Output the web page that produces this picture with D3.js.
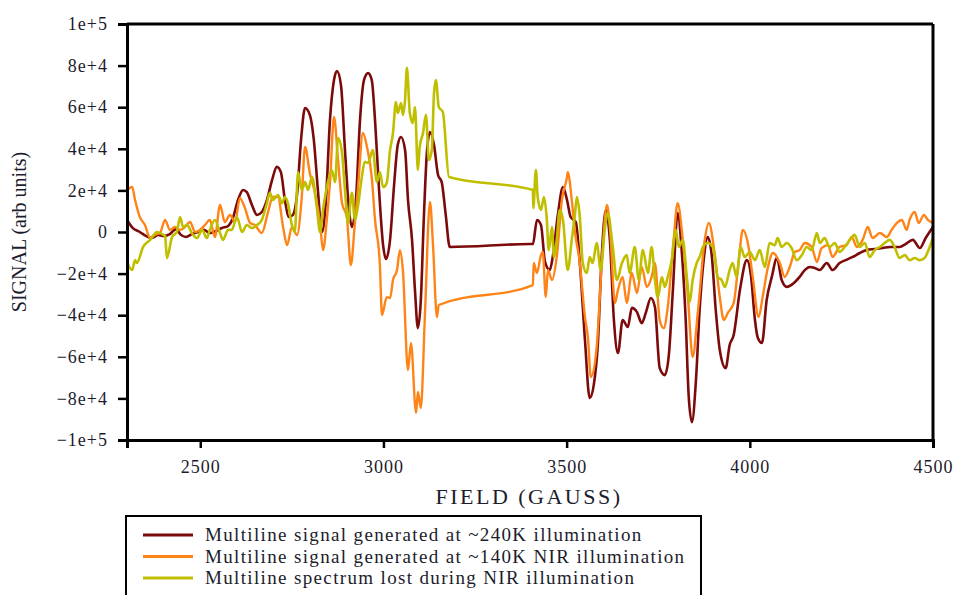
<!DOCTYPE html>
<html>
<head>
<meta charset="utf-8">
<script src="https://cdn.jsdelivr.net/npm/d3@7"></script>
<style>
  html, body { margin: 0; padding: 0; background: #fff; }
  svg { display: block; }
</style>
</head>
<body>
<svg id="chart" width="957" height="595"></svg>
<script>
// ---------------- DATA ----------------
const seriesNames = [
  "Multiline signal generated at ~240K illumination",
  "Multiline signal generated at ~140K NIR illumination",
  "Multiline spectrum lost during NIR illumination"
];
const seriesColors = ["#7d0a0a", "#ff8418", "#bfbf00"];

const xTicks = [2500, 3000, 3500, 4000, 4500];
const yTicks = [-100000, -80000, -60000, -40000, -20000, 0, 20000, 40000, 60000, 80000, 100000];

const field240 = [2300,2316,2335,2352,2368,2385,2401,2417,2434,2445,
  2461,2477,2494,2510,2526,2543,2559,2576,2589,2603,
  2617,2627,2641,2655,2668,2682,2696,2709,2720,2731,
  2742,2753,2764,2775,2786,2799,2810,2821,2832,2843,
  2854,2865,2873,2884,2895,2906,2914,2925,2936,2947,
  2958,2968,2977,2988,2999,3007,3018,3029,3039,3048,
  3059,3067,3078,3086,3094,3102,3110,3119,3127,3138,
  3149,3159,3170,3181,3400,3408,3419,3430,3441,3454,
  3462,3476,3490,3501,3511,3525,3536,3550,3563,3574,
  3585,3596,3607,3618,3629,3640,3653,3667,3678,3692,
  3705,3716,3730,3741,3754,3768,3779,3790,3803,3814,
  3825,3833,3842,3853,3863,3874,3885,3896,3907,3918,
  3934,3945,3956,3973,3992,4003,4014,4022,4033,4046,
  4060,4074,4087,4101,4117,4136,4150,4164,4177,4191,
  4210,4226,4245,4262,4281,4300,4319,4341,4363,4382,
  4409,4425,4445,4464,4480,4500];
const signal240 = [5800,1900,0,-1900,-2900,-1400,-1900,-1000,1400,-1000,
  -2400,-1000,0,1000,-500,500,1900,2900,6700,15400,
  20200,19200,13000,8200,9600,15400,25000,31300,28800,15400,
  7200,8200,17800,44200,59600,56300,44200,20200,0,15400,
  53800,73100,77400,70700,39400,10600,2400,15400,53800,73100,
  76400,73100,53800,20200,-6300,-13000,-3800,22600,41800,45700,
  39400,15400,-3800,-27900,-46200,-32700,5800,39400,48100,41800,
  27400,24000,8200,-7200,-5800,-5800,5800,3400,-14400,-18300,
  -12000,8200,21600,15400,7200,4800,-14900,-51900,-79800,-73600,
  -54300,-11100,10600,-3800,-42300,-58200,-42300,-45700,-36500,-38500,
  -43800,-38900,-31700,-36100,-65400,-68800,-59100,-27900,9100,-8700,
  -42300,-78400,-91400,-71200,-37500,-13500,-2400,-11100,-37500,-56700,
  -65400,-54300,-49500,-27900,-13500,-20700,-42300,-51000,-53400,-32700,
  -21600,-12500,-23100,-26400,-25000,-21600,-18300,-16800,-17300,-18300,
  -14900,-18300,-14900,-13500,-12000,-10100,-8700,-8200,-7700,-7200,
  -7200,-5800,-3800,-7700,-2900,2400];

const field140 = [2300,2314,2322,2335,2349,2363,2376,2390,2404,2417,
  2431,2445,2458,2472,2486,2499,2513,2526,2540,2554,
  2567,2581,2595,2608,2622,2636,2649,2668,2685,2698,
  2712,2726,2737,2750,2764,2777,2786,2799,2813,2827,
  2835,2846,2854,2865,2876,2887,2900,2911,2922,2930,
  2944,2955,2968,2977,2990,2996,3009,3018,3026,3037,
  3045,3053,3067,3075,3089,3094,3102,3113,3127,3135,
  3146,3151,3408,3410,3419,3430,3435,3443,3449,3460,
  3473,3487,3501,3503,3514,3522,3536,3550,3558,3566,
  3582,3596,3610,3618,3632,3640,3653,3664,3678,3692,
  3705,3719,3732,3741,3754,3765,3776,3792,3803,3817,
  3831,3844,3858,3877,3888,3904,3918,3929,3940,3956,
  3969,3981,3994,4008,4024,4035,4049,4063,4082,4095,
  4109,4123,4136,4150,4169,4183,4196,4213,4226,4245,
  4264,4278,4292,4308,4322,4335,4355,4374,4387,4401,
  4415,4428,4436,4450,4461,4475,4486,4500];
const signal140 = [20200,21600,15400,7200,3400,-2900,-1400,-500,5800,1000,
  2400,1000,2400,4800,0,1000,3400,5800,-2400,13000,
  4800,8200,4800,16300,11500,4300,3400,-500,9600,16800,
  16800,2400,-6300,2400,-1500,16800,40900,28400,18800,4300,
  -8700,7200,23600,55300,34600,13900,7200,-15900,4300,20200,
  47600,40900,26400,5800,-14900,-39900,-31300,-31700,-23100,-18300,
  -8700,-18300,-66400,-53400,-87000,-76900,-84600,-40900,14400,-5300,
  -40900,-35100,-25500,-14900,-19700,-11100,-9600,-31300,-18300,-23100,
  -12000,15400,26400,28800,15400,1000,-14900,-40900,-50500,-69700,
  -55300,-14900,13000,2400,-34100,-27900,-21600,-34100,-19700,-29300,
  -16800,-26400,-21600,-14900,-42300,-46200,-36100,-3800,13900,-3800,
  -31300,-60100,-38900,-3800,4300,-10100,-31300,-42300,-38900,-34100,
  -14900,1000,-4800,-21600,-40900,-31300,-17300,-10100,-14900,-21600,
  -16800,-9600,-8700,-5300,-7200,-14400,-7700,-6300,-12000,-7200,
  -6300,-2400,-7200,-3800,2400,-2900,-500,-2400,1000,4300,
  5800,1000,5800,9600,4300,8200,5800,4300];

const fieldLost = [2300,2314,2322,2327,2344,2363,2382,2395,2404,2409,
  2423,2436,2445,2453,2464,2477,2491,2505,2518,2526,
  2540,2554,2562,2576,2586,2600,2614,2627,2641,2655,
  2668,2682,2690,2698,2712,2723,2731,2739,2750,2758,
  2767,2777,2786,2794,2805,2818,2827,2835,2848,2859,
  2868,2876,2887,2895,2903,2914,2922,2930,2941,2949,
  2958,2971,2982,2990,2999,3009,3018,3026,3034,3039,
  3048,3053,3059,3064,3072,3080,3086,3094,3099,3108,
  3116,3124,3132,3138,3143,3151,3162,3179,3408,3409,
  3416,3421,3430,3438,3446,3451,3460,3465,3473,3481,
  3490,3503,3514,3522,3528,3536,3544,3555,3563,3571,
  3582,3593,3604,3612,3626,3637,3651,3664,3672,3686,
  3697,3708,3722,3732,3741,3749,3760,3768,3776,3787,
  3798,3806,3817,3828,3836,3844,3855,3863,3872,3885,
  3899,3904,3912,3923,3932,3945,3953,3964,3975,3986,
  4000,4014,4027,4041,4054,4068,4076,4087,4101,4114,
  4128,4142,4155,4169,4183,4191,4204,4218,4232,4245,
  4259,4273,4286,4300,4314,4327,4341,4355,4368,4382,
  4395,4409,4423,4436,4450,4464,4477,4491,4500];
const signalLost = [-14400,-18300,-13500,-14900,-7200,-3800,0,-1000,-2000,-12500,
  -2400,0,7200,2400,3400,-500,-2900,1000,-2900,1000,
  5800,-500,-3800,1000,1000,7200,0,3400,1900,3400,
  5800,13900,18800,15400,17800,13900,16800,13900,3400,0,
  28800,20200,24000,20200,26400,12000,0,10600,23600,29800,
  24000,45200,38000,20200,4300,18800,5800,12000,26400,33700,
  33200,39400,24000,28800,21600,23600,39400,47600,62500,57200,
  62000,56300,63500,78900,57200,52400,60100,29800,40900,47600,
  56300,34600,39400,66800,73100,60100,57700,26400,20200,11500,
  29800,16800,10600,16800,5800,-8700,2400,-12000,-3800,10600,
  5800,-18300,-3800,7200,16800,7200,-14900,-19700,-12000,-14900,
  -5300,-18300,1000,9100,-7200,-23100,-14900,-11100,-19700,-7200,
  -23100,-8700,-19700,-7200,-23100,-31300,-21600,-26400,-21600,-13500,
  1000,-7200,-3800,-21600,-33700,-23100,-14900,-12000,-7200,-5300,
  -7200,-12000,-21600,-23100,-26400,-18300,-14900,-21600,-7200,-12000,
  -9600,-13500,-8700,-16800,-5300,-6300,-2900,-7200,-5300,-7700,
  -13500,-11100,-7200,-8700,-500,-5300,-2900,-7200,-5300,-9600,
  -7200,-3800,-1400,-7200,-5300,-12000,-8700,-7200,-5300,-3800,
  -7200,-12500,-11100,-13500,-12500,-13500,-12500,-7200,-2900];

// ---------------- LAYOUT ----------------
const FONT = "'Liberation Serif', 'DejaVu Serif', serif";
const INK = "#1c1c2c";
const W = 957, H = 595;
const margin = { left: 127, top: 24, right: 24, bottom: 155 };
const iw = W - margin.left - margin.right;
const ih = H - margin.top - margin.bottom;

const svg = d3.select("#chart").attr("font-family", FONT);
svg.append("rect").attr("width", W).attr("height", H).attr("fill", "#fff");

const x = d3.scaleLinear().domain([2300, 4500]).range([0, iw]);
const y = d3.scaleLinear().domain([-100000, 100000]).range([ih, 0]);

const g = svg.append("g").attr("transform", `translate(${margin.left},${margin.top})`);

const series = [
  { name: seriesNames[0], color: seriesColors[0], xs: field240, ys: signal240, w: 2.6 },
  { name: seriesNames[1], color: seriesColors[1], xs: field140, ys: signal140, w: 2.4 },
  { name: seriesNames[2], color: seriesColors[2], xs: fieldLost, ys: signalLost, w: 2.6 }
];

const line = d3.line().x(d => x(d[0])).y(d => y(d[1])).curve(d3.curveMonotoneX);

series.forEach(s => {
  const pts = s.xs.map((f, i) => [f, s.ys[i]]);
  g.append("path")
    .datum(pts)
    .attr("fill", "none")
    .attr("stroke", s.color)
    .attr("stroke-width", s.w)
    .attr("stroke-linejoin", "round")
    .attr("d", line);
});

// frame (top & right)
g.append("line").attr("x1", 0).attr("x2", iw).attr("y1", 0).attr("y2", 0)
  .attr("stroke", "#000").attr("stroke-width", 3);
g.append("line").attr("x1", iw).attr("x2", iw).attr("y1", 0).attr("y2", ih)
  .attr("stroke", "#000").attr("stroke-width", 3);

const fmtY = v => v === 0 ? "0" : d3.format(".0e")(v);

const yAxis = g.append("g")
  .call(d3.axisLeft(y).tickValues(yTicks).tickFormat(fmtY).tickSize(9).tickPadding(10));
const xAxis = g.append("g").attr("transform", `translate(0,${ih})`)
  .call(d3.axisBottom(x).tickValues(xTicks).tickFormat(d3.format("d")).tickSize(8).tickPadding(12));

[yAxis, xAxis].forEach(a => {
  a.attr("font-family", FONT).attr("font-size", 17);
  a.select(".domain").attr("stroke", "#000").attr("stroke-width", 3);
  a.selectAll(".tick line").attr("stroke", "#000").attr("stroke-width", 2.5);
  a.selectAll(".tick text")
    .attr("font-family", FONT)
    .attr("font-size", 18)
    .attr("letter-spacing", "1px")
    .attr("fill", INK);
});

// axis titles
svg.append("text")
  .attr("transform", `translate(26,${margin.top + ih / 2}) rotate(-90)`)
  .attr("text-anchor", "middle")
  .attr("font-size", 20)
  .attr("fill", INK)
  .text("SIGNAL (arb units)");

svg.append("text")
  .attr("x", margin.left + iw / 2 - 1)
  .attr("y", 504)
  .attr("text-anchor", "middle")
  .attr("font-size", 22)
  .attr("letter-spacing", "2.5px")
  .attr("fill", INK)
  .text("FIELD (GAUSS)");

// legend
const leg = svg.append("g");
leg.append("rect")
  .attr("x", 126).attr("y", 516).attr("width", 575).attr("height", 100)
  .attr("fill", "#fff").attr("stroke", "#000").attr("stroke-width", 2);

series.forEach((s, i) => {
  const cy = 535 + i * 21.5;
  leg.append("line")
    .attr("x1", 143).attr("x2", 193).attr("y1", cy).attr("y2", cy)
    .attr("stroke", s.color).attr("stroke-width", 3);
  leg.append("text")
    .attr("x", 205).attr("y", cy + 6)
    .attr("font-size", 19)
    .attr("letter-spacing", "1.35px")
    .attr("fill", INK)
    .text(s.name);
});
</script>
</body>
</html>
